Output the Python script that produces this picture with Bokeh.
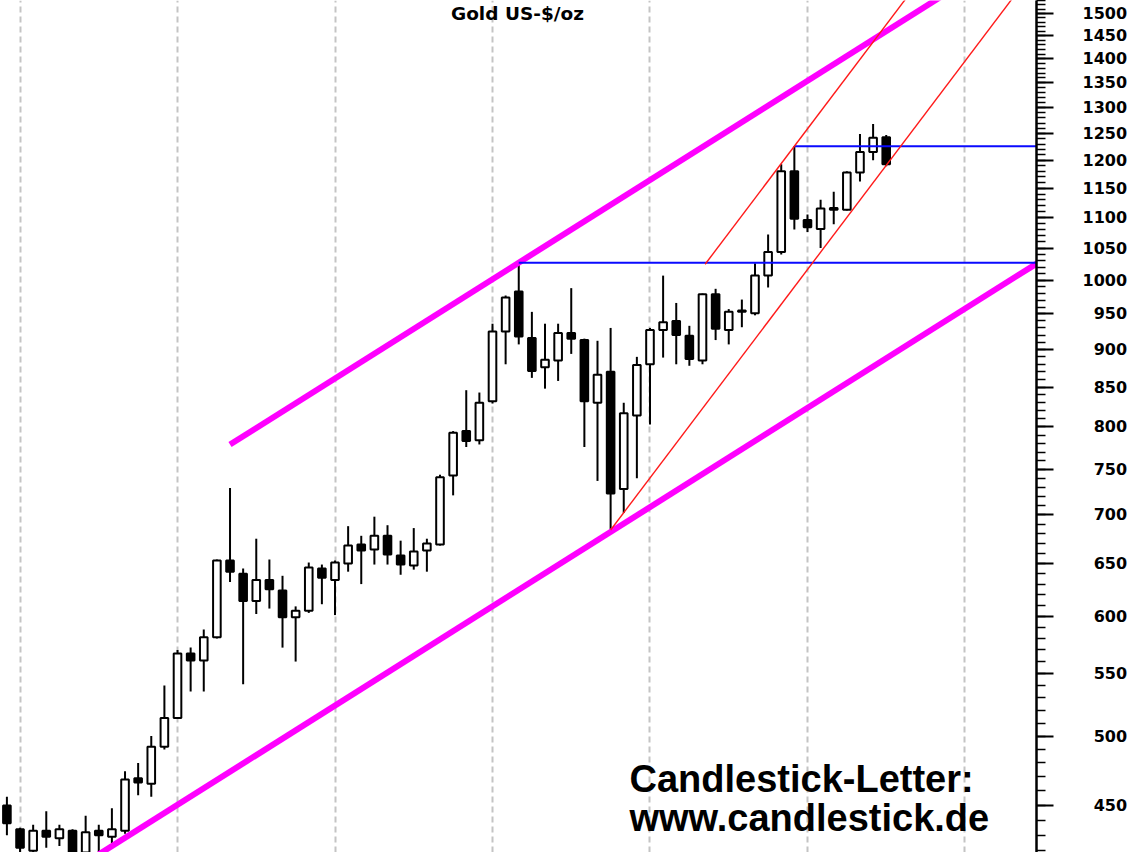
import numpy as np
from bokeh.plotting import figure
from bokeh.models import Range1d, FixedTicker, Grid, Label
from bokeh.embed import file_html
from bokeh.resources import INLINE

# ---------------- data (monthly gold, US-$/oz) ----------------
months = ["2004-12",
          "2005-01", "2005-02", "2005-03", "2005-04", "2005-05", "2005-06",
          "2005-07", "2005-08", "2005-09", "2005-10", "2005-11", "2005-12",
          "2006-01", "2006-02", "2006-03", "2006-04", "2006-05", "2006-06",
          "2006-07", "2006-08", "2006-09", "2006-10", "2006-11", "2006-12",
          "2007-01", "2007-02", "2007-03", "2007-04", "2007-05", "2007-06",
          "2007-07", "2007-08", "2007-09", "2007-10", "2007-11", "2007-12",
          "2008-01", "2008-02", "2008-03", "2008-04", "2008-05", "2008-06",
          "2008-07", "2008-08", "2008-09", "2008-10", "2008-11", "2008-12",
          "2009-01", "2009-02", "2009-03", "2009-04", "2009-05", "2009-06",
          "2009-07", "2009-08", "2009-09", "2009-10", "2009-11", "2009-12",
          "2010-01", "2010-02", "2010-03", "2010-04", "2010-05", "2010-06",
          "2010-07"]

opens = [450,
         434, 420, 433, 428, 433, 418, 433, 429, 433, 469, 465, 492,
         514, 567, 561, 581, 653, 640, 614, 634, 624, 599, 605, 645,
         634, 650, 669, 664, 678, 658, 648, 663, 669, 743, 795, 784,
         832, 925, 983, 916, 876, 885, 923, 913, 830, 870, 728, 814,
         880, 927, 940, 919, 885, 979, 927, 953, 951, 1007, 1044, 1180,
         1096, 1081, 1116, 1113, 1178, 1215, 1243]

highs = [456,
         435, 437, 446, 437, 434, 443, 437, 448, 474, 480, 500, 540,
         570, 572, 588, 654, 729, 645, 675, 654, 638, 609, 651, 649,
         653, 688, 678, 698, 689, 673, 686, 675, 744, 795, 846, 843,
         936, 977, 1024, 953, 936, 936, 988, 915, 912, 930, 830, 890,
         930, 1007, 966, 933, 980, 987, 957, 971, 1026, 1072, 1193, 1226,
         1105, 1130, 1144, 1180, 1249, 1268, 1247]

lows = [430,
        417, 418, 422, 423, 414, 414, 418, 425, 431, 457, 456, 490,
        514, 535, 535, 580, 632, 541, 602, 607, 572, 560, 603, 611,
        601, 642, 630, 649, 649, 639, 644, 642, 668, 721, 776, 779,
        829, 880, 907, 862, 848, 858, 894, 776, 737, 684, 702, 740,
        803, 889, 880, 878, 880, 913, 907, 931, 948, 989, 1040, 1080,
        1076, 1050, 1089, 1112, 1162, 1200, 1189]

closes = [438,
          422, 433, 429, 434, 418, 432, 430, 434, 468, 466, 492, 514,
          567, 561, 581, 653, 642, 614, 634, 625, 599, 605, 646, 636,
          651, 668, 663, 678, 659, 649, 662, 670, 741, 793, 783, 830,
          925, 974, 918, 871, 886, 923, 915, 832, 866, 723, 817, 879,
          927, 938, 920, 887, 979, 929, 953, 955, 1007, 1044, 1180, 1098,
          1084, 1115, 1113, 1178, 1215, 1242, 1193]

y_ticks = [450, 500, 550, 600, 650, 700, 750, 800, 850, 900, 950, 1000,
           1050, 1100, 1150, 1200, 1250, 1300, 1350, 1400, 1450, 1500]
y_minor = list(range(410, 1540, 10))

year_starts = ["2005-01", "2006-01", "2007-01", "2008-01", "2009-01", "2010-01", "2011-01"]

# trend lines: (anchor month, anchor price, start offset, end offset); slopes in log-price per month
channel_slope = 0.01257
red_slope = 0.0264
upper_channel = ("2008-03", 1027, -22.0, 33.0)
lower_channel = ("2008-10", 682, -44.0, 32.5)
red_lower = ("2008-10", 684, 0.0, 31.0)
red_upper = ("2009-12", 1226, -6.8, 10.0)
blue_levels = [("2008-03", 1027), ("2009-12", 1226)]


def midx(m):
    y, mo = m.split("-")
    return (int(y) - 2004) * 12 + int(mo) - 12


X0, X1 = -0.488, 78.45
Y0, Y1 = 418.9, 1530.0

idx = np.array([midx(m) for m in months], dtype=float)
o = np.array(opens, dtype=float)
c = np.array(closes, dtype=float)
h = np.array(highs, dtype=float)
l = np.array(lows, dtype=float)
up = c >= o
dn = ~up

p = figure(frame_width=1036, frame_height=852,
           x_range=Range1d(X0, X1), y_range=Range1d(Y0, Y1),
           y_axis_type="log", y_axis_location="right", x_axis_location=None,
           output_backend="svg", toolbar_location=None,
           min_border_left=0, min_border_top=0, min_border_bottom=0, min_border_right=0,
           background_fill_color="white", border_fill_color="white")
p.outline_line_color = None
p.grid.visible = False

grid = Grid(dimension=0, ticker=FixedTicker(ticks=[midx(m) for m in year_starts]),
            grid_line_color="#c4c4c4", grid_line_width=2, grid_line_dash="6 4")
p.add_layout(grid)

# candles
p.segment(x0=idx, y0=l, x1=idx, y1=h, line_color="black", line_width=2)
p.vbar(x=idx[up], width=0.58, top=c[up], bottom=o[up],
       fill_color="white", line_color="black", line_width=2)
p.vbar(x=idx[dn], width=0.58, top=o[dn], bottom=c[dn],
       fill_color="black", line_color="black", line_width=2)


def tline(spec, slope):
    m, price, a, b = spec
    i0 = midx(m)
    xs = [i0 + a, i0 + b]
    ys = [price * np.exp(slope * a), price * np.exp(slope * b)]
    return xs, ys


for spec in (upper_channel, lower_channel):
    xs, ys = tline(spec, channel_slope)
    p.line(xs, ys, line_color="#ff00ff", line_width=6)

for m, lvl in blue_levels:
    p.line([midx(m), X1], [lvl, lvl], line_color="#0a0aff", line_width=2)

for spec in (red_lower, red_upper):
    xs, ys = tline(spec, red_slope)
    p.line(xs, ys, line_color="#ff1a1a", line_width=1.4)

# right axis styling
ax = p.yaxis[0]
ax.ticker = FixedTicker(ticks=y_ticks, minor_ticks=y_minor)
ax.major_label_overrides = {t: ("\u00a0\u00a0" if t < 1000 else "") + str(t) for t in y_ticks}
ax.major_label_text_font = "DejaVu Sans"
ax.major_label_text_font_style = "bold"
ax.major_label_text_font_size = "16px"
ax.major_label_text_color = "black"
ax.axis_line_width = 2.5
ax.axis_line_color = "black"
ax.major_tick_line_width = 2
ax.minor_tick_line_width = 1.5
ax.major_tick_out = 17
ax.major_tick_in = 0
ax.minor_tick_out = 9
ax.minor_tick_in = 0
ax.major_label_standoff = 29

# texts
p.add_layout(Label(x=517, y=839, x_units="screen", y_units="screen", text="Gold US-$/oz",
                   text_align="center", text_baseline="alphabetic",
                   text_font="DejaVu Sans", text_font_style="bold", text_font_size="18.5px",
                   text_color="black"))
p.add_layout(Label(x=629, y=74, x_units="screen", y_units="screen", text="Candlestick-Letter:",
                   text_align="left", text_baseline="alphabetic",
                   text_font="Liberation Sans", text_font_style="bold", text_font_size="38px",
                   text_color="black"))
p.add_layout(Label(x=629, y=35, x_units="screen", y_units="screen", text="www.candlestick.de",
                   text_align="left", text_baseline="alphabetic",
                   text_font="Liberation Sans", text_font_style="bold", text_font_size="38px",
                   text_color="black"))

open("out.html", "w").write(file_html(p, INLINE))
